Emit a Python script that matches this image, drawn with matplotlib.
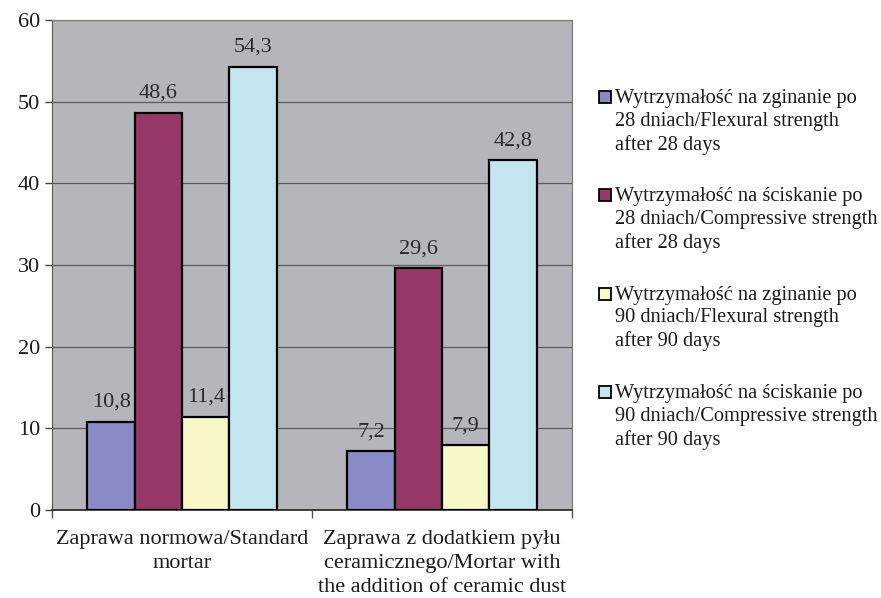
import matplotlib
matplotlib.use("Agg")
import matplotlib.pyplot as plt
import numpy as np
from matplotlib.patches import Rectangle

plt.rcParams['font.family'] = ['Liberation Serif', 'DejaVu Serif']

# data
groups = ['Zaprawa normowa/Standard\nmortar',
          'Zaprawa z dodatkiem pyłu\nceramicznego/Mortar with\nthe addition of ceramic dust']
series = ['Wytrzymałość na zginanie po\n28 dniach/Flexural strength\nafter 28 days',
          'Wytrzymałość na ściskanie po\n28 dniach/Compressive strength\nafter 28 days',
          'Wytrzymałość na zginanie po\n90 dniach/Flexural strength\nafter 90 days',
          'Wytrzymałość na ściskanie po\n90 dniach/Compressive strength\nafter 90 days']
flex_28 = [10.8, 7.2]
comp_28 = [48.6, 29.6]
flex_90 = [11.4, 7.9]
comp_90 = [54.3, 42.8]
colors = ['#8a8ac6', '#963868', '#f8f7c8', '#c2e5ef']

values = [flex_28, comp_28, flex_90, comp_90]

W, H = 881, 598
fig = plt.figure(figsize=(W / 100, H / 100), dpi=100)
ax = fig.add_axes([52 / W, 1 - 510 / H, 520 / W, 490 / H])
ax.set_facecolor('#b5b6bb')

x = np.arange(len(groups))
w = 1 / 5.5
for i, vals in enumerate(values):
    pos = x - 2 * w + w / 2 + i * w
    bars = ax.bar(pos, vals, w, color=colors[i], edgecolor='black', linewidth=1.6, zorder=3)
    for b, v in zip(bars, vals):
        ax.text(b.get_x() + b.get_width() / 2, v + 2.4, ('%.1f' % v).replace('.', ','),
                ha='center', va='center', fontsize=16, color='#2a2a2a')

ax.set_xlim(-0.5, 1.5)
ax.set_ylim(0, 60)
ax.set_yticks(range(0, 61, 10))
ax.yaxis.grid(True, color='#5c5c5c', linewidth=0.9, zorder=0)
ax.set_axisbelow(True)
ax.tick_params(axis='y', labelsize=16, length=5, width=1, color='#444444', pad=3.5,
               labelcolor='#1a1a1a')

ax.set_xticks(x)
ax.set_xticklabels(groups, fontsize=16, linespacing=1.36, color='#1a1a1a')
ax.set_xticks([-0.5, 0.5, 1.5], minor=True)
ax.tick_params(axis='x', which='major', length=0, pad=14.5)
ax.tick_params(axis='x', which='minor', length=6, width=1, color='#555555', direction='out')

ax.spines['left'].set_color('#555555')
ax.spines['bottom'].set_color('#222222')
ax.spines['bottom'].set_linewidth(1.2)
ax.spines['top'].set_color('#777777')
ax.spines['right'].set_color('#777777')

# legend drawn by hand so the swatch sits on the first text line
for i, (lab, c) in enumerate(zip(series, colors)):
    yc = 97 + i * 98.3
    fig.patches.append(Rectangle((599 / W, 1 - (yc + 6) / H), 12 / W, 12 / H,
                                 facecolor=c, edgecolor='black', linewidth=1.3,
                                 transform=fig.transFigure, figure=fig))
    fig.text(615 / W, 1 - (yc - 8) / H, lab, ha='left', va='top', fontsize=14.7,
             linespacing=1.27, color='#1a1a1a')

fig.savefig('out.png', dpi=100)
